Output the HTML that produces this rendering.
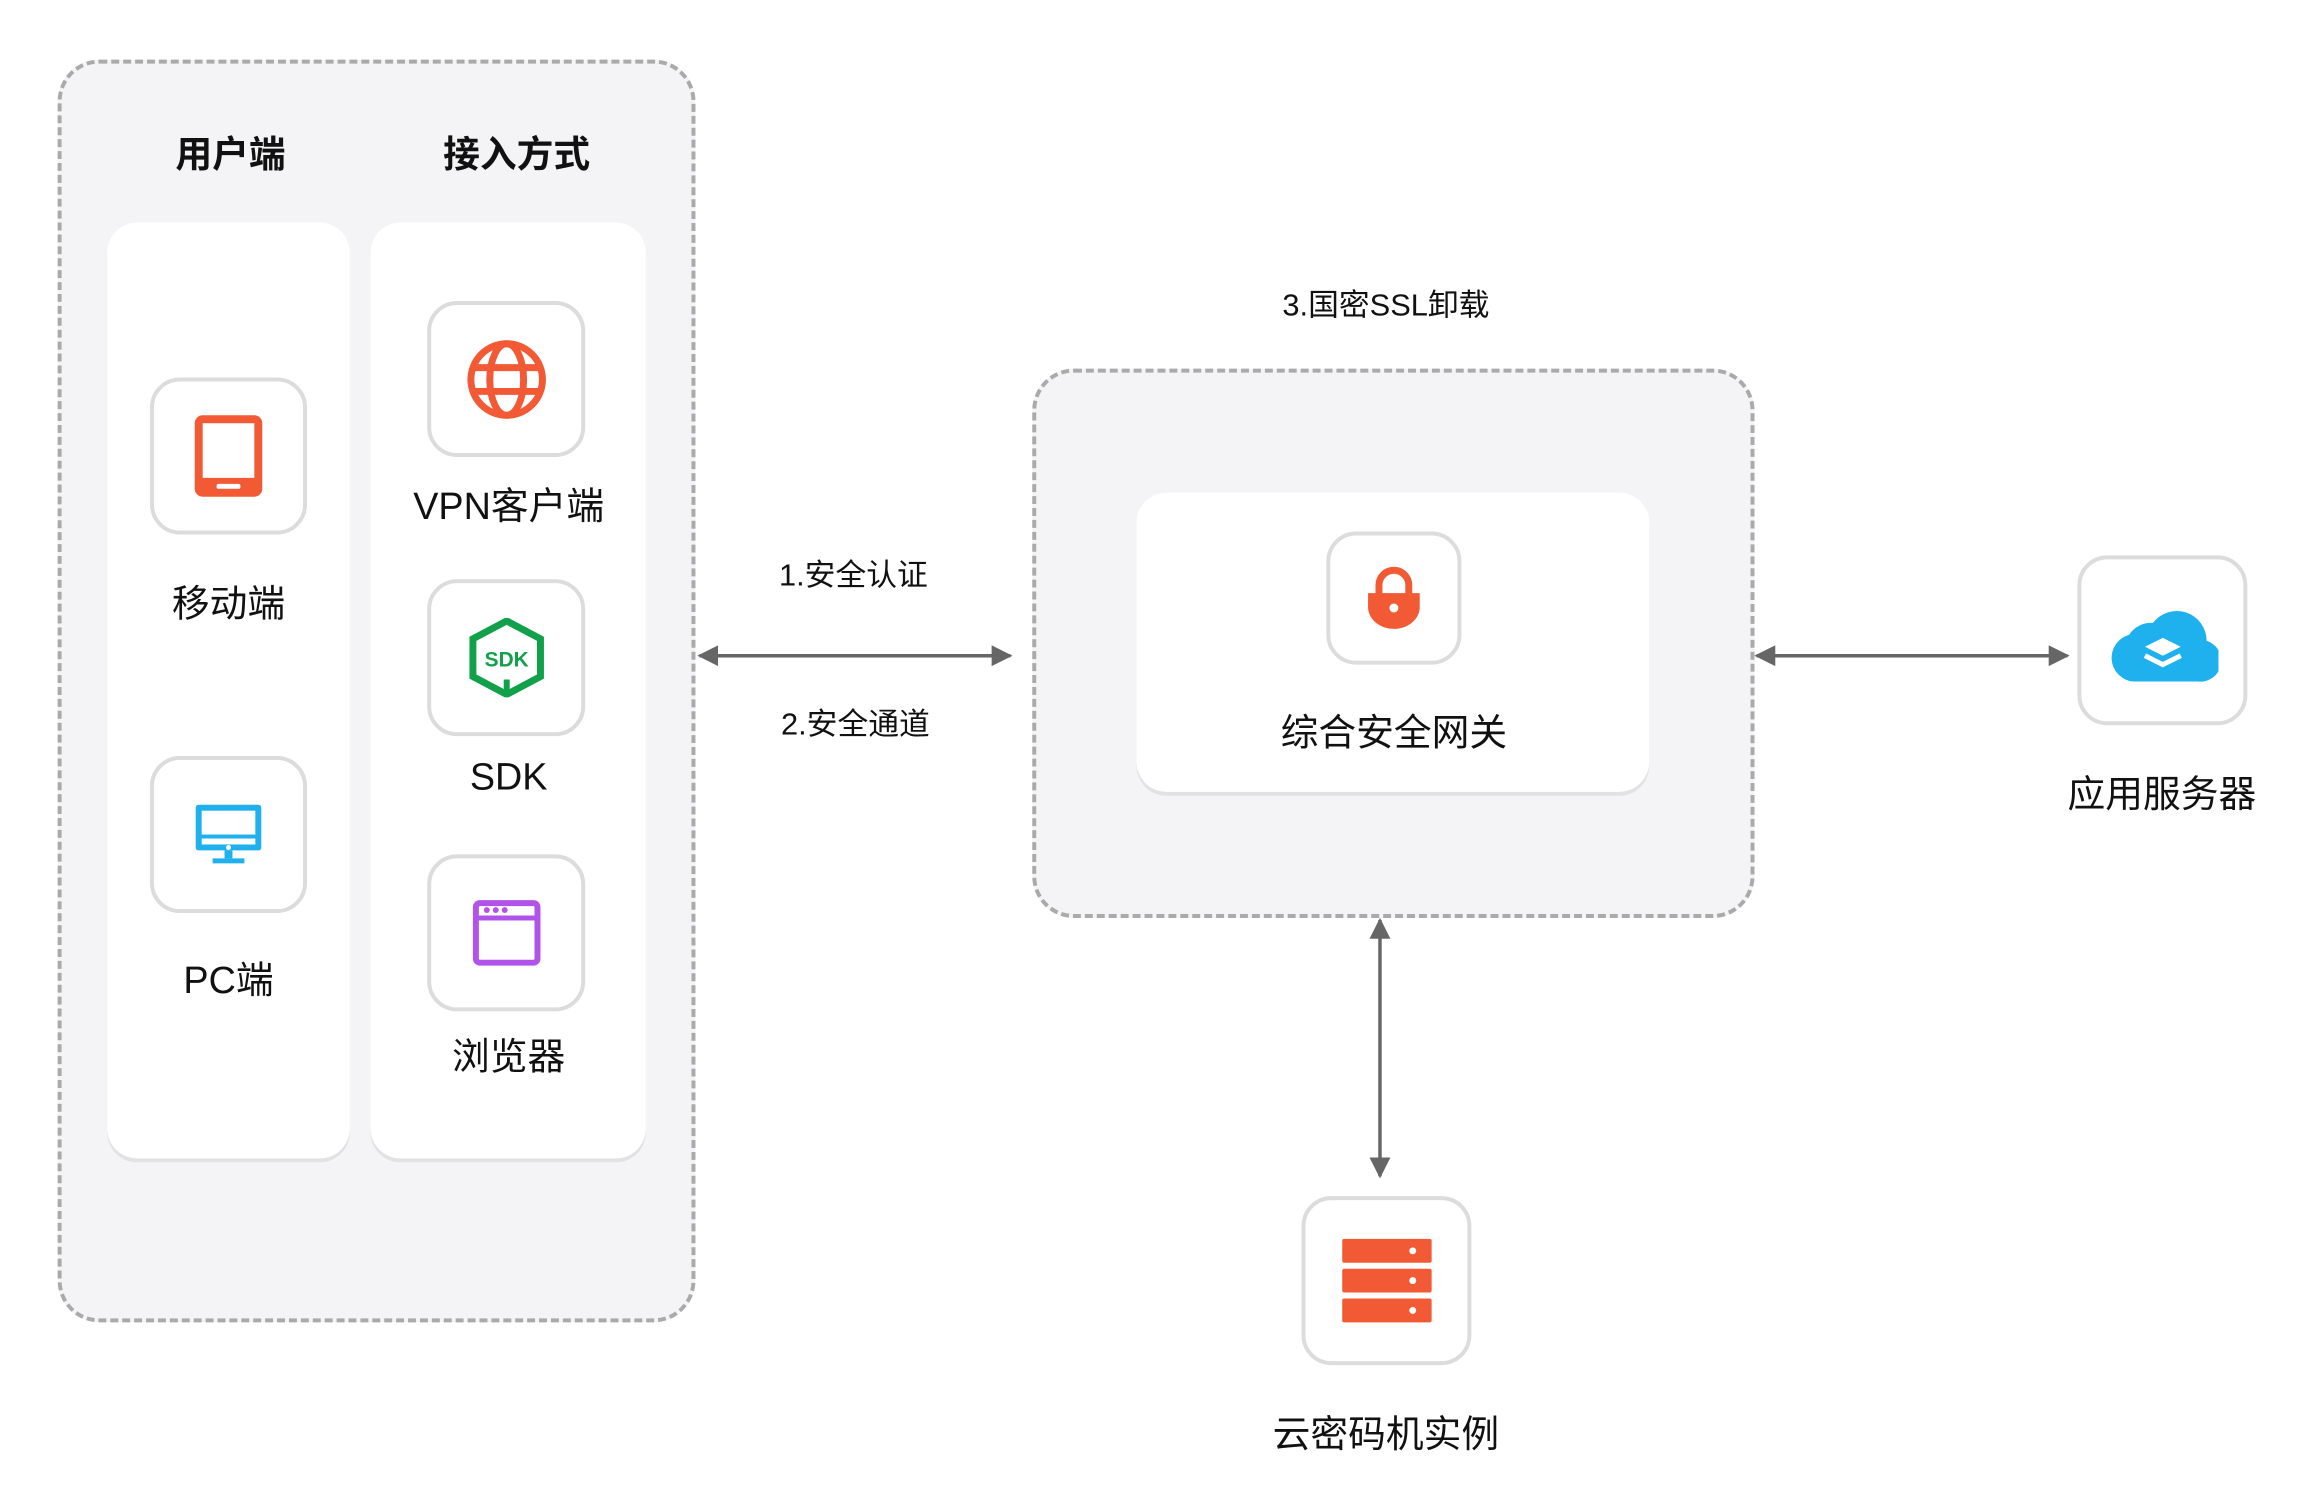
<!DOCTYPE html>
<html><head><meta charset="utf-8"><style>
body{margin:0;width:2321px;height:1512px;background:#fff;position:relative;overflow:hidden;font-family:"Liberation Sans","Noto Sans CJK SC",sans-serif;color:#111}
#w{position:absolute;left:0;top:0;width:2321px;height:1512px;transform:scale(0.9935);transform-origin:0 0}
.a{position:absolute}
.dash{position:absolute;background:#f4f4f6;border:4px dashed #aaa;border-radius:42px;box-sizing:border-box}
.card{position:absolute;background:#fff;border-radius:30px;box-shadow:0 4px 0 #e2e2e4}
.ib{position:absolute;background:#fff;border:4px solid #dcdcdc;border-radius:30px;box-sizing:border-box;display:flex;align-items:center;justify-content:center}
.t{position:absolute;transform:translate(-50%,-50%);white-space:nowrap;font-size:38px}
.h{font-weight:bold;font-size:37px}
.s{font-size:31px}
</style></head><body><div id="w">
<div class="dash" style="left:58px;top:60px;width:642px;height:1271px"></div>
<div class="card" style="left:108px;top:224px;width:244px;height:942px"></div>
<div class="card" style="left:373px;top:224px;width:277px;height:942px"></div>
<div class="t h" style="left:232px;top:152px">用户端</div>
<div class="t h" style="left:520px;top:152px">接入方式</div>

<div class="ib" style="left:151px;top:380px;width:158px;height:158px"><svg width="70" height="84" viewBox="0 0 70 84"><rect x="1" y="1" width="68" height="82" rx="8" fill="#f15a35"/><rect x="9" y="9" width="52" height="55" fill="#fff"/><rect x="23" y="70" width="24" height="5" rx="2" fill="#fff"/></svg></div>
<div class="t" style="left:230px;top:604px">移动端</div>
<div class="ib" style="left:151px;top:761px;width:158px;height:158px"><svg width="72" height="72" viewBox="0 0 72 72"><rect x="3" y="6" width="66" height="46" rx="3" fill="#1fb0ee"/><rect x="9" y="12" width="54" height="24" fill="#fff"/><rect x="9" y="40" width="54" height="6" fill="#fff"/><circle cx="36" cy="49" r="2.5" fill="#fff"/><rect x="32" y="52" width="8" height="8" fill="#1fb0ee"/><rect x="20" y="60" width="32" height="5" fill="#1fb0ee"/></svg></div>
<div class="t" style="left:230px;top:983px">PC端</div>

<div class="ib" style="left:430px;top:303px;width:159px;height:157px"><svg width="82" height="82" viewBox="0 0 82 82" fill="none" stroke="#f15a35" stroke-width="7"><circle cx="41" cy="41" r="36"/><ellipse cx="41" cy="41" rx="17" ry="36"/><line x1="5" y1="29" x2="77" y2="29"/><line x1="5" y1="53" x2="77" y2="53"/></svg></div>
<div class="t" style="left:512px;top:506px">VPN客户端</div>
<div class="ib" style="left:430px;top:583px;width:159px;height:158px"><svg width="76" height="80" viewBox="0 0 76 80"><polygon points="38,3 72,21 72,59 38,77 4,59 4,21" fill="none" stroke="#12a14b" stroke-width="7"/><line x1="38" y1="62" x2="38" y2="78" stroke="#12a14b" stroke-width="6"/><text x="38" y="49" text-anchor="middle" font-family="Liberation Sans" font-weight="bold" font-size="21" fill="#12a14b">SDK</text></svg></div>
<div class="t" style="left:512px;top:783px">SDK</div>
<div class="ib" style="left:430px;top:860px;width:159px;height:158px"><svg width="70" height="70" viewBox="0 0 70 70"><rect x="4" y="5" width="62" height="60" rx="4" fill="none" stroke="#b153e8" stroke-width="6"/><line x1="4" y1="20" x2="66" y2="20" stroke="#b153e8" stroke-width="5"/><circle cx="15" cy="12" r="3" fill="#b153e8"/><circle cx="24" cy="12" r="3" fill="#b153e8"/><circle cx="33" cy="12" r="3" fill="#b153e8"/></svg></div>
<div class="t" style="left:512px;top:1060px">浏览器</div>

<div class="t s" style="left:859px;top:576px">1.安全认证</div>
<div class="t s" style="left:861px;top:726px">2.安全通道</div>
<div class="t s" style="left:1395px;top:304px">3.国密SSL卸载</div>

<div class="dash" style="left:1039px;top:371px;width:727px;height:553px"></div>
<div class="card" style="left:1144px;top:496px;width:516px;height:301px"></div>
<div class="ib" style="left:1335px;top:535px;width:136px;height:134px"><svg width="58" height="64" viewBox="0 0 58 64"><path d="M14 30V19a15 15 0 0 1 30 0V30" fill="none" stroke="#f15a35" stroke-width="7"/><path d="M3 27h52v14a26 22 0 0 1-52 0z" fill="#f15a35"/><circle cx="29" cy="42" r="4.5" fill="#fff"/></svg></div>
<div class="t" style="left:1403px;top:734px">综合安全网关</div>

<svg class="a" style="left:0;top:0" width="2321" height="1512">
<defs><marker id="m" viewBox="0 0 10 10" refX="9" refY="5" markerWidth="6" markerHeight="6" orient="auto-start-reverse"><path d="M0 0L10 5L0 10z" fill="#666"/></marker></defs>
<g stroke="#666" stroke-width="3.5">
<line x1="704" y1="660" x2="1017" y2="660" marker-start="url(#m)" marker-end="url(#m)"/>
<line x1="1768" y1="660" x2="2081" y2="660" marker-start="url(#m)" marker-end="url(#m)"/>
<line x1="1389" y1="926" x2="1389" y2="1184" marker-start="url(#m)" marker-end="url(#m)"/>
</g></svg>

<div class="ib" style="left:2091px;top:559px;width:171px;height:171px"><svg width="112" height="86" viewBox="0 0 112 86"><path d="M26 84a24 24 0 0 1-4-47 26 26 0 0 1 24-12 30 30 0 0 1 54 18 21 21 0 0 1-8 41z" fill="#1fb0ee"/><path d="M56 40l18 9-18 9-18-9z" fill="#fff"/><path d="M38 58l18 9 18-9" fill="none" stroke="#fff" stroke-width="5"/></svg></div>
<div class="t" style="left:2176px;top:796px">应用服务器</div>

<div class="ib" style="left:1310px;top:1204px;width:171px;height:170px"><svg width="92" height="86" viewBox="0 0 92 86"><rect x="1" y="1" width="90" height="24" rx="2" fill="#f15a35"/><rect x="1" y="31" width="90" height="24" rx="2" fill="#f15a35"/><rect x="1" y="61" width="90" height="24" rx="2" fill="#f15a35"/><circle cx="72" cy="13" r="3.5" fill="#fff"/><circle cx="72" cy="43" r="3.5" fill="#fff"/><circle cx="72" cy="73" r="3.5" fill="#fff"/></svg></div>
<div class="t" style="left:1395px;top:1440px">云密码机实例</div>
</div></body></html>
